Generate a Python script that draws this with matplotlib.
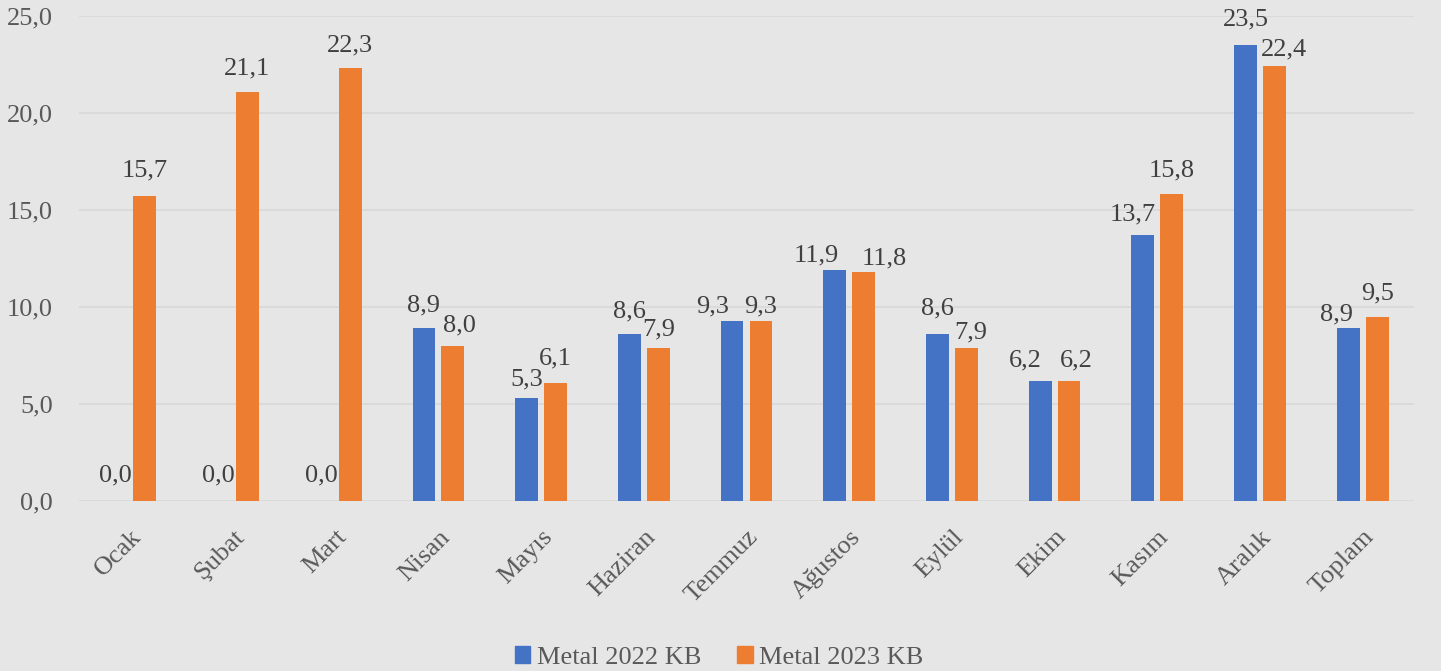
import matplotlib
matplotlib.use("Agg")
import matplotlib.pyplot as plt
import matplotlib.transforms as mtransforms
import numpy as np
from matplotlib.patches import Patch

months = ["Ocak", "Şubat", "Mart", "Nisan", "Mayıs", "Haziran", "Temmuz",
          "Ağustos", "Eylül", "Ekim", "Kasım", "Aralık", "Toplam"]
metal_2022 = [0.0, 0.0, 0.0, 8.9, 5.3, 8.6, 9.3, 11.9, 8.6, 6.2, 13.7, 23.5, 8.9]
metal_2023 = [15.7, 21.1, 22.3, 8.0, 6.1, 7.9, 9.3, 11.8, 7.9, 6.2, 15.8, 22.4, 9.5]
series_names = ["Metal 2022 KB", "Metal 2023 KB"]
y_ticks = [0, 5, 10, 15, 20, 25]

# label nudges in pixels (dx, distance of label centre above bar top)
nudge_2022 = [(0, 28), (0, 28), (0, 28), (0, 26), (0, 21), (0, 25), (-19, 17),
              (-18, 17), (0, 28), (-15, 23), (-10, 23), (0, 28), (-12, 17)]
nudge_2023 = [(0, 29), (0, 26), (0, 26), (7, 23), (0, 27), (0, 21), (0, 17),
              (21, 16), (4, 18), (7, 23), (0, 27), (9, 20), (0, 26)]

BG = "#E7E6E6"
BLUE = "#4472C4"
ORANGE = "#ED7D31"
FONT = "Liberation Serif"
FS = 19
PX = 0.72  # points per pixel at dpi 100

plt.rcParams["font.family"] = [FONT, "DejaVu Serif"]

fig = plt.figure(figsize=(14.41, 6.71), dpi=100, facecolor=BG)
ax = fig.add_axes([0.0548, 0.2534, 0.9265, 0.7228], facecolor=BG)

x = np.arange(len(months))
w = 0.222
off = 0.141
b1 = ax.bar(x - off, metal_2022, w, color=BLUE, zorder=3)
b2 = ax.bar(x + off, metal_2023, w, color=ORANGE, zorder=3)

def fmt(v):
    return f"{v:.1f}".replace(".", ",")

half_digit = 8.7
for bars, vals, nudges in ((b1, metal_2022, nudge_2022), (b2, metal_2023, nudge_2023)):
    for r, v, (dx, dy) in zip(bars, vals, nudges):
        ax.annotate(fmt(v), (r.get_x() + r.get_width() / 2, v),
                    xytext=(dx * PX, (dy - half_digit) * PX),
                    textcoords="offset points", ha="center", va="baseline",
                    fontsize=FS, color="#404040", zorder=4,
                    annotation_clip=False)

ax.set_xlim(-0.5, len(months) - 0.5)
ax.set_ylim(0, 25)
ax.set_yticks(y_ticks)
ax.set_yticklabels([fmt(t) for t in y_ticks], fontsize=FS, color="#595959")
ax.set_xticks(x)
ax.set_xticklabels(months, rotation=45, ha="right", rotation_mode="anchor",
                   fontsize=FS, color="#595959")
shift = mtransforms.ScaledTranslation(-10 / 100, 0, fig.dpi_scale_trans)
for lbl in ax.get_xticklabels():
    lbl.set_transform(lbl.get_transform() + shift)
ax.tick_params(axis="both", length=0)
ax.tick_params(axis="y", pad=26 * PX)
ax.tick_params(axis="x", pad=25 * PX)
ax.grid(axis="y", color="#D9D9D9", linewidth=1.3, zorder=0)
for s in ax.spines.values():
    s.set_visible(False)

handles = [Patch(color=BLUE), Patch(color=ORANGE)]
fig.legend(handles, series_names, loc="center", bbox_to_anchor=(0.499, 0.020),
           ncol=2, frameon=False, fontsize=FS, labelcolor="#595959",
           handlelength=0.6, handleheight=0.6, handletextpad=0.25,
           columnspacing=1.35, borderpad=0)

fig.savefig("out.png", dpi=100, facecolor=BG)
